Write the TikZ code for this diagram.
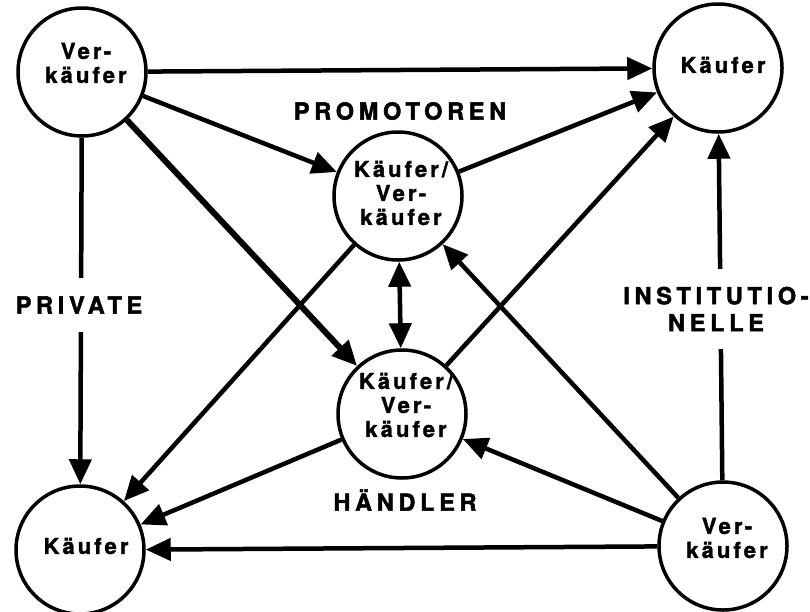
\documentclass[tikz,border=0pt]{standalone}
\usepackage{fontspec}
\newfontfamily\circfont[LetterSpace=14,BoldFeatures={FakeBold=1.5}]{TeX Gyre Heros}
\newfontfamily\labfont[LetterSpace=20,BoldFeatures={FakeBold=2}]{TeX Gyre Heros}
\usetikzlibrary{arrows.meta}
\begin{document}
\begin{tikzpicture}[x=1pt,y=-1pt,
  circ/.style={circle,draw,line width=3.5pt,minimum size=128pt,inner sep=0pt},
  ctext/.style={font=\circfont\bfseries\fontsize{22}{24}\selectfont,align=center,inner sep=0pt},
  ltext/.style={font=\labfont\bfseries\fontsize{23.5}{27}\selectfont,align=center,inner sep=2pt},
  brk/.style={ltext,fill=white,inner xsep=4pt,inner ysep=18pt},
  arr/.style={line width=4.5pt,-{Triangle[length=25pt,width=22pt]}},
  darr/.style={line width=4.5pt,{Triangle[length=25pt,width=22pt]}-{Triangle[length=25pt,width=22pt]}},
]
\fill[white] (0,0) rectangle (810,611);
\useasboundingbox (0,0) rectangle (810,611);

\node[circ] (TL) at (82,72) {};
\node[circ] (TR) at (718,68) {};
\node[circ] (MT) at (398,196) {};
\node[circ] (MB) at (402,414) {};
\node[circ] (BL) at (80,550) {};
\node[circ] (BR) at (723,546) {};

\draw[arr] (TL) -- (TR);
\draw[arr] (TL) -- (MT);
\draw[arr,line width=6pt] (TL) -- (MB);
\draw[arr] (TL) -- (BL);
\draw[arr] (MT) -- (TR);
\draw[arr] (MT) -- (BL);
\draw[darr] (MT) -- (MB);
\draw[arr] (MB) -- (TR);
\draw[arr] (MB) -- (BL);
\draw[arr] (BR) -- (MT);
\draw[arr] (BR) -- (MB);
\draw[arr] (BR) -- (BL);
\draw[arr] (BR) -- (TR);

\node[ctext] (TLt) at (86,63) {Ver-\\käufer};
\node[ctext] (TRt) at (723,65) {Käufer};
\node[ctext] (MTt) at (401,193) {Käufer/\\Ver-\\käufer};
\node[ctext] (MBt) at (406,405) {Käufer/\\Ver-\\käufer};
\node[ctext] (BLt) at (86,546) {Käufer};
\node[ctext] (BRt) at (727,538) {Ver-\\käufer};

\node[ltext] (prom) at (400,111) {PROMOTOREN};
\node[brk] (priv) at (79,305) {PRIVATE};
\node[brk,inner ysep=18pt] (inst) at (716,309) {INSTITUTIO-\\NELLE};
\node[ltext] (haend) at (405,500) {HÄNDLER};
\end{tikzpicture}
\end{document}
